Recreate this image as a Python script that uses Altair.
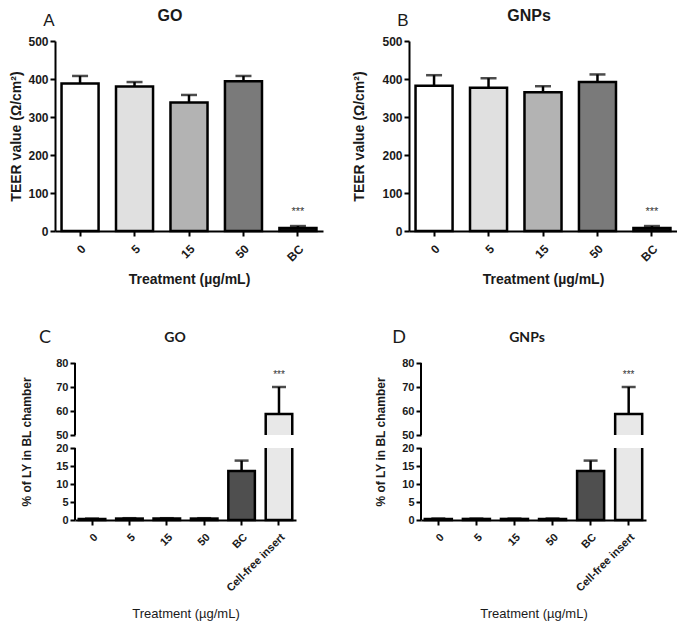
import altair as alt
import pandas as pd

# ---------------- data ----------------
teer_cats = ["0", "5", "15", "50", "BC"]
go_teer_mean = [388, 380, 338, 394, 8]
go_teer_sem = [20, 12, 20, 14, 5]
gnp_teer_mean = [382, 377, 365, 392, 8]
gnp_teer_sem = [28, 25, 16, 20, 5]
teer_sig = ["", "", "", "", "***"]

ly_cats = ["0", "5", "15", "50", "BC", "Cell-free insert"]
go_ly_mean = [0.3, 0.4, 0.4, 0.4, 13.6, 58.7]
go_ly_sem = [0.1, 0.1, 0.1, 0.1, 2.9, 11.3]
gnp_ly_mean = [0.3, 0.3, 0.3, 0.3, 13.6, 58.7]
gnp_ly_sem = [0.1, 0.1, 0.1, 0.1, 2.9, 11.3]
ly_sig = ["", "", "", "", "", "***"]

teer_ticks = [0, 100, 200, 300, 400, 500]
ly_low_ticks = [0, 5, 10, 15, 20]      # lower part of the broken axis
ly_high_ticks = [50, 60, 70, 80]       # upper part of the broken axis

# ---------------- styles ----------------
teer_fill = ["#ffffff", "#e0e0e0", "#b3b3b3", "#7a7a7a", "#111111"]
ly_fill = ["#111111", "#111111", "#111111", "#111111", "#4f4f4f", "#e8e8e8"]
FONT = "Liberation Sans"
FONT2 = "Lato"
INK = "#1a1a1a"


def frame(cats, mean, sem, sig):
    return pd.DataFrame({
        "cat": cats,
        "mean": mean,
        "top": [m + s for m, s in zip(mean, sem)],
        "sig": sig,
    })


def axis_common(**kw):
    d = dict(domainColor="black", domainWidth=2, tickColor="black", tickWidth=2,
             tickSize=5, labelColor=INK, titleColor=INK, labelFont=FONT,
             titleFont=FONT, grid=False, labelOverlap=False)
    d.update(kw)
    return alt.Axis(**d)


def label_layer(texts, xs, ys, fonts, sizes, weights):
    layers = []
    for t, x, y, f, s, w in zip(texts, xs, ys, fonts, sizes, weights):
        layers.append(
            alt.Chart(pd.DataFrame({"t": [t]})).mark_text(
                font=f, fontSize=s, fontWeight=w, color=INK,
                align="center", baseline="middle"
            ).encode(x=alt.value(x), y=alt.value(y), text="t:N")
        )
    return layers


def teer_panel(mean, sem, name, letter, width, ytitle_pad, name_x):
    df = frame(teer_cats, mean, sem, teer_sig)
    x = alt.X("cat:N", sort=teer_cats,
              scale=alt.Scale(paddingInner=0.32, paddingOuter=0.12),
              axis=axis_common(title="Treatment (µg/mL)", labelAngle=-45,
                               labelFontSize=12, labelFontWeight="bold",
                               labelPadding=7, titleFontSize=14,
                               titleFontWeight="bold", titlePadding=9))
    y = alt.Y("mean:Q", scale=alt.Scale(domain=[0, 500], nice=False),
              axis=axis_common(title="TEER value (Ω/cm²)", values=teer_ticks,
                               tickCount=20,
                               labelFontSize=12, labelFontWeight="bold",
                               titleFontSize=14, titleFontWeight="bold",
                               titlePadding=ytitle_pad))
    base = alt.Chart(df).encode(x=x)
    bars = base.mark_bar(stroke="black", strokeWidth=2.5).encode(
        y=y,
        fill=alt.Fill("cat:N", scale=alt.Scale(domain=teer_cats, range=teer_fill),
                      legend=None))
    rule = base.mark_rule(color="black", strokeWidth=2.5).encode(y="mean:Q", y2="top:Q")
    cap = base.mark_tick(color="black", thickness=2.5, size=16).encode(y="top:Q")
    sig = base.mark_text(font=FONT, fontSize=11, color="#333", dy=-14).encode(
        y="top:Q", text="sig:N")
    labs = label_layer([letter, name], [-6, name_x], [-20, -25], [FONT, FONT],
                       [17, 16], ["normal", "bold"])
    return alt.layer(bars, rule, cap, sig, *labs).properties(width=width, height=190)


def ly_panel(mean, sem, name, letter, width, ytitle_pad, name_x, letter_x, left_reach):
    H = 157
    df = frame(ly_cats, mean, sem, ly_sig)
    # broken (piecewise) y scale: 0-20 in the lower part, 50-80 in the upper part
    yscale = alt.Scale(domain=[ly_low_ticks[0], ly_low_ticks[-1],
                               ly_high_ticks[0], ly_high_ticks[-1]],
                       range=[H, 85, 72, 0], nice=False, zero=False)
    x = alt.X("cat:N", sort=ly_cats,
              scale=alt.Scale(paddingInner=0.29, paddingOuter=0.1),
              axis=axis_common(title="Treatment (µg/mL)", labelAngle=-45,
                               labelFontSize=11, labelFontWeight="bold",
                               labelPadding=6, titleFontSize=13,
                               titleFontWeight="normal", titlePadding=14))
    y = alt.Y("mean:Q", scale=yscale,
              axis=axis_common(title="% of LY in BL chamber", domain=False,
                               values=ly_low_ticks + ly_high_ticks, tickCount=30,
                               labelFontSize=11, labelFontWeight="bold",
                               titleFontSize=12, titleFontWeight="bold",
                               titlePadding=ytitle_pad))
    base = alt.Chart(df).encode(x=x)
    bars = base.mark_bar(stroke="black", strokeWidth=2.5).encode(
        y=y,
        fill=alt.Fill("cat:N", scale=alt.Scale(domain=ly_cats, range=ly_fill),
                      legend=None))
    rule = base.mark_rule(color="black", strokeWidth=2.5).encode(y="mean:Q", y2="top:Q")
    cap = base.mark_tick(color="black", thickness=2.5, size=14).encode(y="top:Q")
    sig = base.mark_text(font=FONT, fontSize=10, color="#333", dy=-12).encode(
        y="top:Q", text="sig:N")

    # the break: blank band between the two axis parts
    brk = alt.Chart(pd.DataFrame({"lo": [ly_low_ticks[-1]], "hi": [ly_high_ticks[0]]})
                    ).mark_rect(color="white").encode(
        x=alt.value(2), x2=alt.value(width), y="lo:Q", y2="hi:Q")
    # the two pieces of the y axis line
    segs = alt.Chart(pd.DataFrame({"lo": [ly_low_ticks[0], ly_high_ticks[0]],
                                   "hi": [ly_low_ticks[-1], ly_high_ticks[-1]]})
                     ).mark_rule(color="black", strokeWidth=2).encode(
        x=alt.value(0), y="lo:Q", y2="hi:Q")
    # keeps the left edge of the panel where the reference puts it
    reach = alt.Chart(pd.DataFrame({"lo": [ly_low_ticks[0]]})).mark_rule(
        opacity=0).encode(x=alt.value(left_reach), y=alt.value(0), y2=alt.value(1))

    labs = label_layer([letter, name], [letter_x, name_x], [-25, -25], [FONT2, FONT2],
                       [18, 14], ["normal", "bold"])
    return alt.layer(bars, rule, cap, brk, segs, sig, reach, *labs).properties(
        width=width, height=H)


def spacer():
    return alt.Chart(pd.DataFrame({"v": [0]})).mark_rule(opacity=0).encode(
        x=alt.value(0), y=alt.value(0), y2=alt.value(1)).properties(width=1, height=1)


A = teer_panel(go_teer_mean, go_teer_sem, "GO", "A", 268, 4, 115)
B = teer_panel(gnp_teer_mean, gnp_teer_sem, "GNPs", "B", 268, 15, 120)
C = ly_panel(go_ly_mean, go_ly_sem, "GO", "C", 221, 22, 100, -30, -66)
D = ly_panel(gnp_ly_mean, gnp_ly_sem, "GNPs", "D", 225, 14, 106, -22, -45)

indep = dict(fill="independent", x="independent", y="independent")
top = alt.hconcat(spacer(), alt.hconcat(A, B, spacing=29).resolve_scale(**indep),
                  spacing=0).resolve_scale(**indep)
bottom = alt.hconcat(spacer(), alt.hconcat(C, D, spacing=78).resolve_scale(**indep),
                     spacing=0).resolve_scale(**indep)

chart = alt.vconcat(top, bottom, spacing=42).resolve_scale(**indep).properties(
    padding=0, background="white"
).configure_view(stroke=None)

chart.save("out.html", embed_options={"renderer": "svg", "actions": False})
